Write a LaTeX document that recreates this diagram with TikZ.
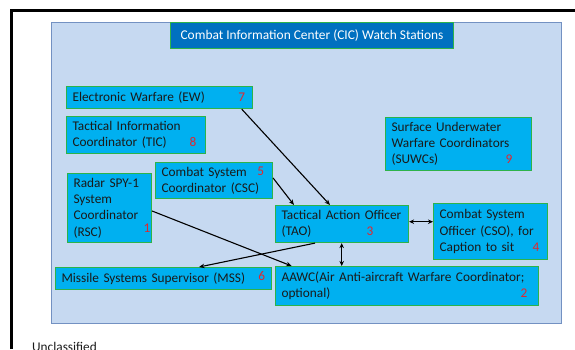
\documentclass[tikz,border=0pt]{standalone}
\usepackage{fontspec}
\setmainfont{Carlito}
\usetikzlibrary{arrows.meta,calc}
\definecolor{panelfill}{HTML}{C6D9F1}
\definecolor{paneldraw}{HTML}{7391C2}
\definecolor{boxfill}{HTML}{00B0F0}
\definecolor{boxdraw}{HTML}{2DB34A}
\definecolor{titlefill}{HTML}{0070C0}
\definecolor{numred}{HTML}{E3262E}
\definecolor{txt}{HTML}{1A1A1A}
\tikzset{
  box/.style={draw=boxdraw, line width=1.1pt, fill=boxfill, anchor=north west,
    inner xsep=6pt, inner ysep=1pt, align=left, text=txt,
    font=\fontsize{13.3}{16.2}\selectfont},
  num/.style={text=numred, inner sep=0pt, font=\fontsize{13.3}{16.2}\selectfont},
  conn/.style={draw=black, line width=1.1pt, -{Stealth[length=5.5pt,width=4.5pt]}},
  dconn/.style={draw=black, line width=1.1pt, {Stealth[length=5pt,width=4.5pt]}-{Stealth[length=5pt,width=4.5pt]}}
}
\begin{document}
\begin{tikzpicture}[x=1pt,y=-1pt]
\useasboundingbox (0,0) rectangle (575,349);
% outer frame
\draw[line width=3pt] (11.3,349) -- (11.3,10.4) -- (575,10.4);
% panel
\node[draw=paneldraw, line width=1.3pt, fill=panelfill, anchor=north west,
  minimum width=510pt, minimum height=301pt, inner sep=0pt] (panel) at (51,22) {};
% title
\node[draw=boxdraw, line width=1.1pt, fill=titlefill, text=white, anchor=north west,
  minimum width=283pt, minimum height=26pt, inner sep=0pt,
  font=\fontsize{13.4}{16}\selectfont] (title) at (170,22) {Combat Information Center (CIC) Watch Stations};
% boxes
\node[box, text width=174pt, minimum height=22pt] (ew) at (66,86) {Electronic Warfare (EW)};
\node[box, text width=127pt, minimum height=37pt] (tic) at (66,116) {Tactical Information\\Coordinator (TIC)};
\node[box, text width=105pt, minimum height=36pt] (csc) at (155,162) {Combat System\\Coordinator (CSC)};
\node[box, text width=72pt, minimum height=69pt] (rsc) at (67,173) {Radar SPY-1\\System\\Coordinator\\(RSC)};
\node[box, text width=134pt, minimum height=53pt] (suwc) at (385,117) {Surface Underwater\\Warfare Coordinators\\(SUWCs)};
\node[box, text width=121pt, minimum height=37pt] (tao) at (275,205) {Tactical Action Officer\\(TAO)};
\node[box, text width=102pt, minimum height=56pt] (cso) at (433,203) {Combat System\\Officer (CSO), for\\Caption to sit};
\node[box, text width=204pt, minimum height=22pt] (mss) at (55,267) {Missile Systems Supervisor (MSS)};
\node[box, text width=251pt, minimum height=39pt] (aawc) at (275,266) {AAWC(Air Anti-aircraft Warfare Coordinator;\\optional)};
% numbers
\node[num] (n7) at (241.7,97) {7};
\node[num] (n8) at (193,142) {8};
\node[num] (n5) at (260.7,171) {5};
\node[num] (n1) at (147,228) {1};
\node[num] (n3) at (370,231.7) {3};
\node[num] (n4) at (536,247) {4};
\node[num] (n2) at (524,293) {2};
\node[num] (n6) at (261.7,276) {6};
\node[num] (n9) at (509,159) {9};
% connectors
\draw[conn] (241.7,0 |- ew.south) -- (330,0 |- tao.north);
\draw[conn] (csc.east |- 0,178) -- (294,0 |- tao.north);
\draw[conn] (rsc.east |- 0,211) -- (291.7,0 |- aawc.north);
\draw[conn] (315,0 |- tao.south) -- (199,0 |- mss.north);
\draw[dconn] (tao.east |- 0,221.7) -- (cso.west |- 0,221.7);
\draw[dconn] (341.7,0 |- tao.south) -- (341.7,0 |- aawc.north);
% footer
\node[anchor=base west, inner sep=0pt, text=txt, font=\fontsize{13.3}{16}\selectfont] (uncl) at (32,351.5) {Unclassified};
\end{tikzpicture}
\end{document}
